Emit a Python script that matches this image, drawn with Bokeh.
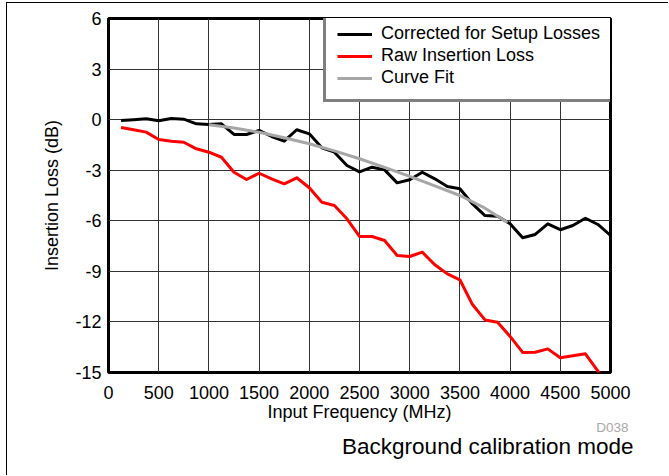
from bokeh.plotting import figure
from bokeh.models import FixedTicker, Range1d, Legend, LegendItem, Title
from bokeh.embed import file_html
from bokeh.resources import INLINE

freq = [125, 250, 375, 500, 625, 750, 875, 1000, 1125, 1250,
        1375, 1500, 1625, 1750, 1875, 2000, 2125, 2250, 2375, 2500,
        2625, 2750, 2875, 3000, 3125, 3250, 3375, 3500, 3625, 3750,
        3875, 4000, 4125, 4250, 4375, 4500, 4625, 4750, 4875, 5000]

corrected = [-0.05, 0.0, 0.05, -0.07, 0.07, 0.03, -0.25, -0.29, -0.25, -0.88,
             -0.88, -0.64, -1.0, -1.28, -0.6, -0.84, -1.67, -1.93, -2.72, -3.1,
             -2.82, -2.98, -3.75, -3.57, -3.12, -3.51, -3.97, -4.1, -5.0, -5.69,
             -5.73, -6.18, -7.01, -6.81, -6.18, -6.53, -6.28, -5.85, -6.22, -6.87]

raw = [-0.47, -0.6, -0.74, -1.18, -1.28, -1.34, -1.73, -1.93, -2.23, -3.12,
       -3.55, -3.18, -3.51, -3.81, -3.45, -4.04, -4.9, -5.09, -5.88, -6.93,
       -6.93, -7.17, -8.06, -8.12, -7.86, -8.61, -9.15, -9.5, -10.97, -11.88,
       -12.02, -12.86, -13.81, -13.8, -13.6, -14.13, -14.01, -13.89, -14.92, -16.0]

fit_freq = [1000, 1250, 1500, 1750, 2000, 2250, 2500, 2750, 3000, 3250, 3500, 3750, 3975]
fit = [-0.3, -0.5, -0.75, -1.07, -1.43, -1.85, -2.32, -2.83, -3.37, -3.93, -4.5, -5.25, -6.1]

x_ticks = [0, 500, 1000, 1500, 2000, 2500, 3000, 3500, 4000, 4500, 5000]
y_ticks = [-15, -12, -9, -6, -3, 0, 3, 6]

series_labels = ["Corrected for Setup Losses", "Raw Insertion Loss", "Curve Fit"]

FONT = "Liberation Sans"

p = figure(width=662, height=473, x_range=Range1d(0, 5000), y_range=Range1d(-15, 6),
           output_backend="svg", toolbar_location=None,
           min_border_left=101, min_border_right=59, min_border_top=15, min_border_bottom=104)
p.styles = {"border-left": "1px solid black", "border-top": "1px solid black",
            "margin-left": "6px", "margin-top": "2px"}

p.background_fill_color = "white"
p.border_fill_color = "white"
p.outline_line_color = "black"
p.outline_line_width = 3

for ax in (p.xaxis[0], p.yaxis[0]):
    ax.axis_line_color = None
    ax.major_tick_line_color = None
    ax.minor_tick_line_color = None
    ax.major_tick_in = 0
    ax.major_tick_out = 0
    ax.major_label_text_font = FONT
    ax.major_label_text_font_size = "18px"
    ax.major_label_text_color = "black"
    ax.axis_label_text_font = FONT
    ax.axis_label_text_font_size = "18px"
    ax.axis_label_text_font_style = "normal"
    ax.axis_label_text_color = "black"

p.xaxis.ticker = FixedTicker(ticks=x_ticks)
p.yaxis.ticker = FixedTicker(ticks=y_ticks)
p.yaxis.major_label_overrides = {t: str(t) for t in y_ticks}
p.xaxis.major_label_overrides = {t: str(t) for t in x_ticks}
p.xaxis.major_label_standoff = 13
p.yaxis.major_label_standoff = 7
p.xaxis.axis_label = "Input Frequency (MHz)"
p.yaxis.axis_label = "Insertion Loss (dB)"
p.xaxis.axis_label_standoff = 0
p.yaxis.axis_label_standoff = 10

p.xgrid.ticker = FixedTicker(ticks=x_ticks)
p.ygrid.ticker = FixedTicker(ticks=y_ticks)
for g in (p.xgrid[0], p.ygrid[0]):
    g.grid_line_color = "#333333"
    g.grid_line_width = 1

r1 = p.line(freq, corrected, line_color="black", line_width=3, line_join="round")
r2 = p.line(freq, raw, line_color="#ff0000", line_width=3, line_join="round")
r3 = p.line(fit_freq, fit, line_color="#a6a6a6", line_width=3, line_join="round")

legend = Legend(items=[LegendItem(label=series_labels[0], renderers=[r1]),
                       LegendItem(label=series_labels[1], renderers=[r2]),
                       LegendItem(label=series_labels[2], renderers=[r3])])
legend.location = (215, 270)
legend.margin = 0
legend.padding = 11
legend.spacing = 1
legend.glyph_width = 35
legend.glyph_height = 20
legend.label_height = 20
legend.label_standoff = 9
legend.label_text_font = FONT
legend.label_text_font_size = "18px"
legend.label_text_color = "black"
legend.border_line_color = "black"
legend.border_line_width = 3
legend.background_fill_color = "white"
legend.background_fill_alpha = 1.0
p.add_layout(legend)

p.add_layout(Title(text="D038", align="right", offset=-18, standoff=-14,
                   text_font=FONT, text_font_size="13.5px", text_font_style="normal",
                   text_color="#a8a8a8"), "below")
p.add_layout(Title(text="Background calibration mode", align="right", offset=-23,
                   standoff=8,
                   text_font=FONT, text_font_size="22.5px", text_font_style="normal",
                   text_color="black"), "below")

open("out.html", "w").write(file_html(p, INLINE))
